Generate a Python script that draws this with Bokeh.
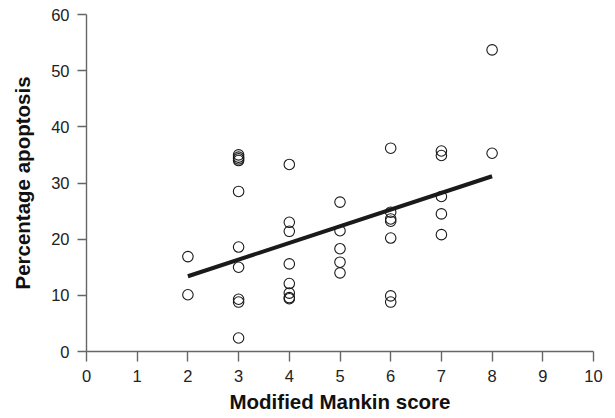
from bokeh.plotting import figure
from bokeh.models import FixedTicker, Range1d
from bokeh.embed import file_html
from bokeh.resources import INLINE

# Data
score = [2, 2,
         3, 3, 3, 3, 3, 3, 3, 3, 3, 3,
         4, 4, 4, 4, 4, 4, 4, 4,
         5, 5, 5, 5, 5,
         6, 6, 6, 6, 6, 6, 6,
         7, 7, 7, 7, 7,
         8, 8]
apoptosis = [16.9, 10.1,
             35.0, 34.6, 34.3, 34.0, 28.5, 18.6, 15.0, 9.3, 8.8, 2.4,
             33.3, 23.0, 21.4, 15.6, 12.1, 10.4, 9.6, 9.4,
             26.6, 21.5, 18.3, 15.9, 14.0,
             36.2, 24.8, 23.6, 23.2, 20.2, 9.9, 8.8,
             35.7, 34.9, 27.6, 24.5, 20.8,
             53.7, 35.3]
fit_x = [2, 8]
fit_y = [13.4, 31.2]
x_ticks = [0, 1, 2, 3, 4, 5, 6, 7, 8, 9, 10]
y_ticks = [0, 10, 20, 30, 40, 50, 60]

FONT = "Liberation Sans"

p = figure(width=615, height=418, output_backend="svg", toolbar_location=None,
           x_range=Range1d(0, 10), y_range=Range1d(0, 60),
           min_border_left=86, min_border_right=22, min_border_top=14, min_border_bottom=67)
p.outline_line_color = None
p.xgrid.grid_line_color = None
p.ygrid.grid_line_color = None
p.background_fill_color = "white"
p.border_fill_color = "white"

p.line(fit_x, fit_y, line_color="#1a1a1a", line_width=4)
p.scatter(score, apoptosis, size=10.5, fill_color=None, line_color="#1a1a1a", line_width=1.1)

for ax, ticks in ((p.xaxis, x_ticks), (p.yaxis, y_ticks)):
    ax.ticker = FixedTicker(ticks=ticks)
    ax.minor_tick_line_color = None
    ax.axis_line_color = "#666666"
    ax.axis_line_width = 1.4
    ax.major_tick_line_color = "#666666"
    ax.major_tick_line_width = 1.4
    ax.major_tick_in = 0
    ax.major_label_text_font = FONT
    ax.major_label_text_font_size = "16.5px"
    ax.major_label_text_color = "#222222"
    ax.axis_label_text_font = FONT
    ax.axis_label_text_font_style = "bold"
    ax.axis_label_text_font_size = "20.5px"
    ax.axis_label_text_color = "#111111"

p.xaxis.major_tick_out = 10
p.xaxis.major_label_standoff = 8
p.xaxis.axis_label = "Modified Mankin score"
p.xaxis.axis_label_standoff = 5

p.yaxis.major_tick_out = 9
p.yaxis.major_label_standoff = 8
p.yaxis.axis_label = "Percentage apoptosis"
p.yaxis.axis_label_standoff = 14

open("out.html", "w").write(file_html(p, INLINE))
